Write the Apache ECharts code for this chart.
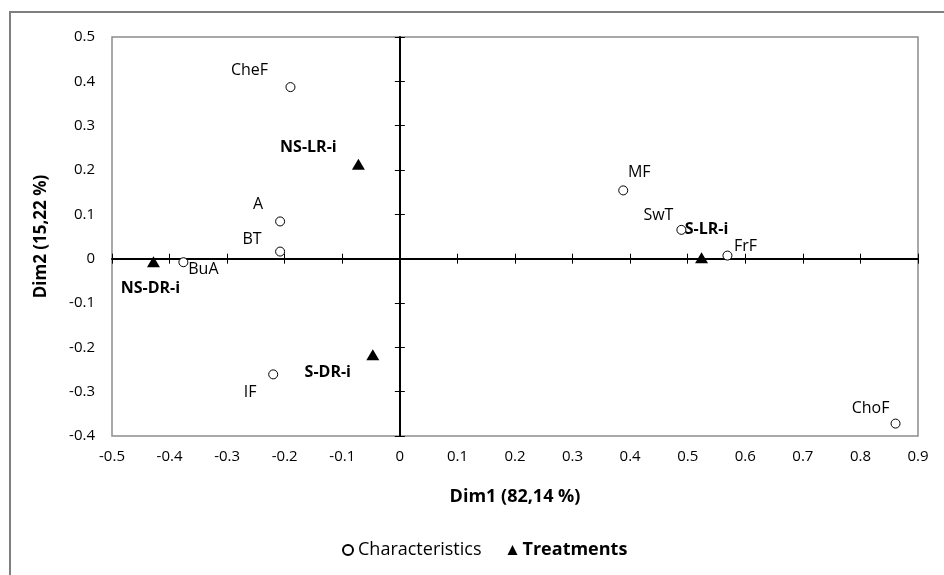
<!DOCTYPE html>
<html lang="en">
<head>
    <meta charset="UTF-8">
    <title>index</title>
    <script src="https://cdn.jsdelivr.net/npm/echarts@6/dist/echarts.min.js"></script>
    <style>
        html, body { margin: 0; padding: 0; background: #fff; }
    </style>
</head>
<body>
<div id="main" style="width: 944px;height:575px;"></div>

<script type="text/javascript">
    // characteristics (open circles)
    var charNames = ['CheF', 'A', 'BT', 'BuA', 'IF', 'MF', 'SwT', 'FrF', 'ChoF'];
    var charX = [-0.190, -0.208, -0.208, -0.376, -0.220, 0.388, 0.489, 0.569, 0.861];
    var charY = [0.387, 0.084, 0.016, -0.008, -0.261, 0.154, 0.065, 0.007, -0.372];

    // treatments (filled triangles)
    var treatNames = ['NS-LR-i', 'NS-DR-i', 'S-DR-i', 'S-LR-i'];
    var treatX = [-0.072, -0.428, -0.047, 0.524];
    var treatY = [0.213, -0.007, -0.217, 0.002];

    // axis ranges
    var xTicks = [-0.5, 0.9, 0.1];   // min, max, step
    var yTicks = [-0.4, 0.5, 0.1];

    // where each label sits relative to its point (px)
    var labelOffset = {
        'CheF': [-41, -17], 'A': [-22, -17], 'BT': [-28, -12], 'BuA': [20, 7],
        'IF': [-23, 18], 'MF': [16, -18], 'SwT': [-23, -14], 'FrF': [18, -9],
        'ChoF': [-25, -15],
        'NS-LR-i': [-50, -17], 'NS-DR-i': [-3, 27], 'S-DR-i': [-45, 18], 'S-LR-i': [5, -28]
    };

    var FONT = '"Open Sans", "Noto Sans", sans-serif';

    function pts(names, xs, ys) {
        var out = [];
        for (var i = 0; i < names.length; i++) {
            out.push({
                name: names[i],
                value: [xs[i], ys[i]],
                label: {offset: labelOffset[names[i]]}
            });
        }
        return out;
    }

    // one axis for the labels at the edge, two more on zero for the crossing ticks
    function xAx(kind) {
        var a = {
            type: 'value', min: xTicks[0], max: xTicks[1], interval: xTicks[2],
            position: 'bottom', splitLine: {show: false},
            axisLabel: {show: false}, axisTick: {show: false},
            axisLine: {show: false, onZero: false}
        };
        if (kind === 'label') {
            a.axisLabel = {show: true, color: '#000', fontSize: 15, fontFamily: FONT, margin: 13};
            a.name = 'Dim1 (82,14 %)';
            a.nameLocation = 'middle';
            a.nameGap = 52;
            a.nameTextStyle = {color: '#000', fontSize: 18, fontWeight: 'bold', fontFamily: FONT};
        } else {
            a.axisLine = {show: true, onZero: true, onZeroAxisIndex: 0,
                lineStyle: {color: '#000', width: kind === 'out' ? 2 : 0, opacity: kind === 'out' ? 1 : 0}};
            a.axisTick = {show: true, inside: kind === 'in', length: 5, lineStyle: {color: '#000', width: 1}};
        }
        return a;
    }

    function yAx(kind) {
        var a = {
            type: 'value', min: yTicks[0], max: yTicks[1], interval: yTicks[2],
            position: 'left', splitLine: {show: false},
            axisLabel: {show: false}, axisTick: {show: false},
            axisLine: {show: false, onZero: false}
        };
        if (kind === 'label') {
            a.axisLabel = {show: true, color: '#000', fontSize: 15, fontFamily: FONT, margin: 17};
            a.name = 'Dim2 (15,22 %)';
            a.nameLocation = 'middle';
            a.nameGap = 62;
            a.nameTextStyle = {color: '#000', fontSize: 17, fontWeight: 'bold', fontFamily: FONT};
        } else {
            a.axisLine = {show: true, onZero: true, onZeroAxisIndex: 0,
                lineStyle: {color: '#000', width: kind === 'out' ? 2 : 0, opacity: kind === 'out' ? 1 : 0}};
            a.axisTick = {show: true, inside: kind === 'in', length: 5, lineStyle: {color: '#000', width: 1}};
        }
        return a;
    }

    var myChart = echarts.init(document.getElementById('main'));

    var option = {
        backgroundColor: '#fff',
        animation: false,
        textStyle: {fontFamily: FONT},
        graphic: [{
            type: 'rect',
            shape: {x: 10, y: 12, width: 980, height: 620},
            style: {fill: null, stroke: '#7f7f7f', lineWidth: 2},
            silent: true
        }],
        grid: {
            left: 112, top: 37, right: 26, bottom: 139,
            show: true, borderColor: '#8c8c8c', borderWidth: 1.5, backgroundColor: '#fff'
        },
        legend: {
            left: 337, top: 536,
            itemWidth: 10, itemHeight: 10, itemGap: 26,
            data: [
                {name: 'Characteristics', textStyle: {fontWeight: 'normal'}},
                {name: 'Treatments', textStyle: {fontWeight: 'bold'}}
            ],
            textStyle: {color: '#000', fontSize: 18, fontFamily: FONT}
        },
        xAxis: [xAx('label'), xAx('out'), xAx('in')],
        yAxis: [yAx('label'), yAx('out'), yAx('in')],
        series: [{
            name: 'Characteristics',
            type: 'scatter',
            symbol: 'circle',
            symbolSize: 9,
            itemStyle: {color: '#fff', borderColor: '#000', borderWidth: 1, opacity: 1},
            label: {show: true, formatter: '{b}', position: 'inside', color: '#000',
                fontSize: 16, fontFamily: FONT},
            z: 5,
            data: pts(charNames, charX, charY)
        }, {
            name: 'Treatments',
            type: 'scatter',
            symbol: 'triangle',
            symbolSize: [13, 11],
            itemStyle: {color: '#000', opacity: 1},
            label: {show: true, formatter: '{b}', position: 'inside', color: '#000',
                fontSize: 16, fontWeight: 'bold', fontFamily: FONT},
            z: 5,
            data: pts(treatNames, treatX, treatY)
        }]
    };

    myChart.setOption(option);
</script>
</body>
</html>
